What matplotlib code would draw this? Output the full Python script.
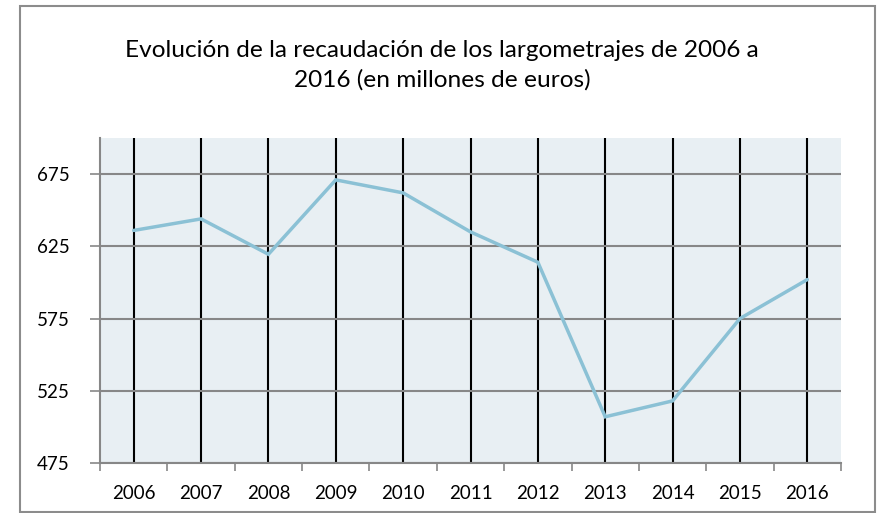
import matplotlib
matplotlib.use("Agg")
import matplotlib.pyplot as plt
from matplotlib.patches import Rectangle
import numpy as np

years = ["2006", "2007", "2008", "2009", "2010", "2011",
         "2012", "2013", "2014", "2015", "2016"]
recaudacion = [636, 644, 619.5, 671, 662, 635, 614, 507, 518, 575, 602]
yticks = [475, 525, 575, 625, 675]

title = ("Evolución de la recaudación de los largometrajes de 2006 a\n"
         "2016 (en millones de euros)")

plt.rcParams['font.family'] = ['Lato', 'DejaVu Sans']

fig = plt.figure(figsize=(8.83, 5.13), dpi=100)
fig.patch.set_facecolor('white')

# outer chart border
fig.patches.append(Rectangle((20 / 883, 1 / 513), 855 / 883, 506 / 513,
                             transform=fig.transFigure, fill=False,
                             edgecolor='#8c8c8c', linewidth=1.5))

ax = fig.add_axes([100 / 883, 50 / 513, 741 / 883, 325 / 513])
ax.set_facecolor('#e8eff3')

x = np.arange(len(years))
ax.plot(x, recaudacion, color='#8bc1d5', linewidth=2.5, zorder=3,
        solid_capstyle='round', solid_joinstyle='miter')

ax.set_xlim(-0.5, len(years) - 0.5)
ax.set_ylim(475, 700)

ax.set_yticks(yticks)
ax.set_xticks(x)
ax.set_xticklabels(years)
ax.set_xticks(np.arange(-0.5, len(years), 1.0), minor=True)

ax.grid(axis='y', color='#878787', linewidth=1.5, zorder=1)
ax.grid(axis='x', which='major', color='black', linewidth=1.5, zorder=2)
ax.set_axisbelow(True)

ax.tick_params(axis='x', which='major', length=0, pad=16, labelsize=13.5)
ax.tick_params(axis='x', which='minor', length=6, width=1.2, color='#878787')
ax.tick_params(axis='y', length=7, width=1.2, color='#878787', pad=15,
               labelsize=13.5)

for side in ['top', 'right']:
    ax.spines[side].set_visible(False)
for side in ['left', 'bottom']:
    ax.spines[side].set_color('#878787')
    ax.spines[side].set_linewidth(1.5)

fig.text(442 / 883, 1 - 65 / 513, title, ha='center', va='center',
         fontsize=17.6, linespacing=1.45)

fig.savefig('out.png', dpi=100)
